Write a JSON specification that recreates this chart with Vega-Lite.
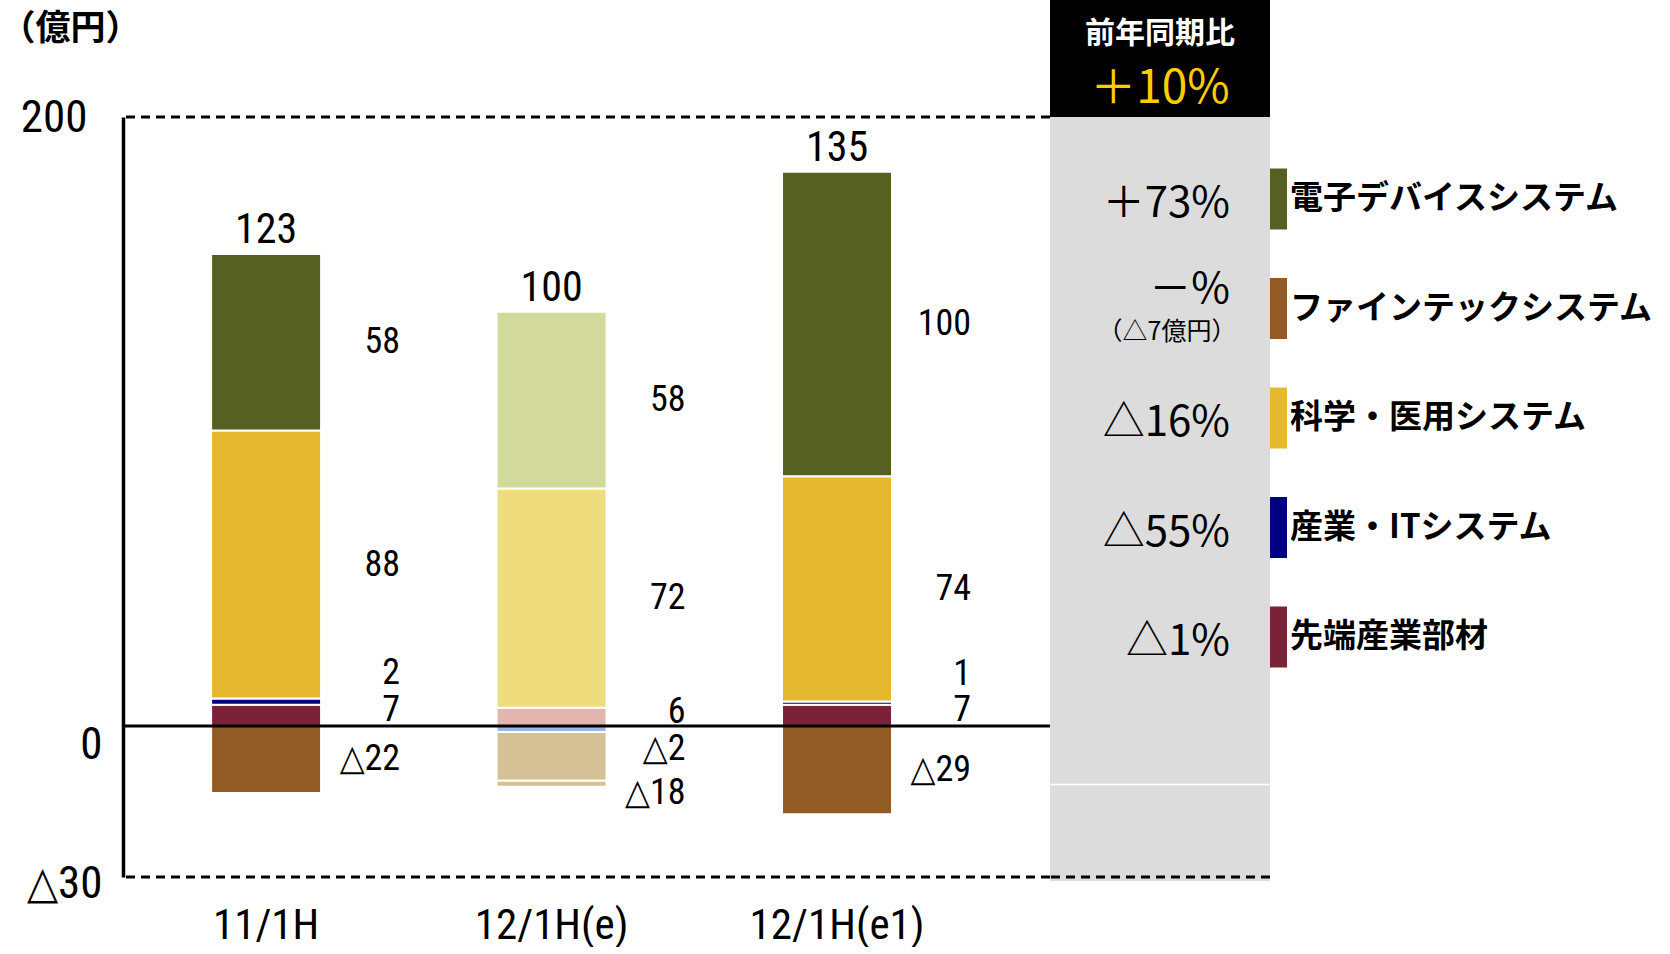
{
  "$schema": "https://vega.github.io/schema/vega-lite/v6.json",
  "background": "white",
  "padding": 0,
  "spacing": 0,
  "bounds": "flush",
  "config": {"view": {"stroke": null}, "font": "Noto Sans CJK JP", "text": {"color": "black"}},
  "datasets": {
    "bars": [
      {"cat": "11/1H", "series": "先端産業部材", "value": 7, "ord": 1, "label": "7"},
      {"cat": "11/1H", "series": "産業・ITシステム", "value": 2, "ord": 2, "label": "2"},
      {"cat": "11/1H", "series": "科学・医用システム", "value": 88, "ord": 3, "label": "88"},
      {"cat": "11/1H", "series": "電子デバイスシステム", "value": 58, "ord": 4, "label": "58"},
      {"cat": "11/1H", "series": "ファインテックシステム", "value": -22, "ord": 5, "label": "△22"},
      {"cat": "12/1H(e)", "series": "先端産業部材", "value": 6, "ord": 1, "label": "6"},
      {"cat": "12/1H(e)", "series": "産業・ITシステム", "value": -2, "ord": 2, "label": "△2"},
      {"cat": "12/1H(e)", "series": "科学・医用システム", "value": 72, "ord": 3, "label": "72"},
      {"cat": "12/1H(e)", "series": "電子デバイスシステム", "value": 58, "ord": 4, "label": "58"},
      {"cat": "12/1H(e)", "series": "ファインテックシステム", "value": -16, "ord": 5, "label": ""},
      {"cat": "12/1H(e)", "series": "ファインテックシステム", "value": -2, "ord": 6, "label": "△18"},
      {"cat": "12/1H(e1)", "series": "先端産業部材", "value": 7, "ord": 1, "label": "7"},
      {"cat": "12/1H(e1)", "series": "産業・ITシステム", "value": 1, "ord": 2, "label": "1"},
      {"cat": "12/1H(e1)", "series": "科学・医用システム", "value": 74, "ord": 3, "label": "74"},
      {"cat": "12/1H(e1)", "series": "電子デバイスシステム", "value": 100, "ord": 4, "label": "100"},
      {"cat": "12/1H(e1)", "series": "ファインテックシステム", "value": -29, "ord": 5, "label": "△29"}
    ],
    "totals": [
      {"cat": "11/1H", "total": "123"},
      {"cat": "12/1H(e)", "total": "100"},
      {"cat": "12/1H(e1)", "total": "135"}
    ],
    "yoy": [
      {"series": "電子デバイスシステム", "yoy": "＋73%"},
      {"series": "ファインテックシステム", "yoy": "－%", "note": "（△7億円）"},
      {"series": "科学・医用システム", "yoy": "△16%"},
      {"series": "産業・ITシステム", "yoy": "△55%"},
      {"series": "先端産業部材", "yoy": "△1%"}
    ]
  },
  "resolve": {"scale": {"color": "independent", "fill": "independent", "y": "independent"}, "legend": {"color": "independent"}},
  "hconcat": [
    {
      "width": 927,
      "height": 760,
      "data": {"name": "bars"},
      "layer": [
        {
          "transform": [{"filter": "datum.cat != '12/1H(e)'"}],
          "mark": {"type": "bar", "stroke": "white", "strokeWidth": 2},
          "encoding": {
            "x": {
              "field": "cat", "type": "nominal",
              "scale": {"domain": ["11/1H", "12/1H(e)", "12/1H(e1)"], "paddingInner": 0.6147, "paddingOuter": 0.431, "align": 0.358},
              "axis": {"title": null, "domain": false, "ticks": false, "labelFont": "Liberation Sans Narrow, Roboto Condensed, DejaVu Sans Condensed, Roboto, sans-serif", "labelFontSize": 43, "labelColor": "black", "labelPadding": 27, "labelAngle": 0, "labelLimit": 0}
            },
            "y": {
              "field": "value", "type": "quantitative", "stack": "zero",
              "scale": {"domain": [-49.6, 200], "nice": false, "zero": false},
              "axis": {
                "title": "（億円）", "titleAngle": 0, "titleAlign": "left", "titleBaseline": "middle",
                "titleX": -123, "titleY": -89, "titleFontSize": 35, "titleFontWeight": "bold",
                "titleFont": "Noto Sans CJK JP", "titleColor": "black",
                "values": [200, 0, -49.6],
                "labelExpr": "datum.value > 100 ? '200' : (datum.value > -20 ? '0' : '△30')",
                "labelFont": "Liberation Sans Narrow, Roboto Condensed, DejaVu Sans Condensed, Roboto, sans-serif", "labelFontSize": 45, "labelColor": "black",
                "labelBaseline": "middle", "labelOverlap": false,
                "labelPadding": {"condition": {"test": "datum.value == 200", "value": 36}, "value": 21},
                "labelOffset": {"condition": [{"test": "datum.value == 0", "value": 19}, {"test": "datum.value < -40", "value": 6}], "value": 0},
                "ticks": false, "grid": false, "domainColor": "black", "domainWidth": 3.5
              }
            },
            "color": {
              "field": "series", "type": "nominal",
              "scale": {
                "domain": ["電子デバイスシステム", "ファインテックシステム", "科学・医用システム", "産業・ITシステム", "先端産業部材"],
                "range": ["#556022", "#925A24", "#E5B82F", "#000080", "#7A2238"]
              },
              "legend": {
                "title": null, "orient": "none", "legendX": 1123.5, "legendY": 51.5, "padding": 0,
                "symbolType": "M-0.328,-1H0.328V1H-0.328Z", "symbolSize": 3721, "symbolStrokeWidth": 0,
                "labelFont": "Noto Sans CJK JP", "labelFontSize": 33, "labelFontWeight": "bold", "labelColor": "black",
                "labelOffset": -17.5, "rowPadding": 48.5, "labelLimit": 0
              }
            },
            "order": {"field": "ord", "type": "quantitative"}
          }
        },
        {
          "transform": [{"filter": "datum.cat == '12/1H(e)'"}],
          "mark": {"type": "bar", "stroke": "white", "strokeWidth": 2},
          "encoding": {
            "x": {"field": "cat", "type": "nominal"},
            "y": {"field": "value", "type": "quantitative", "stack": "zero"},
            "fill": {
              "field": "series", "type": "nominal",
              "scale": {
                "domain": ["電子デバイスシステム", "ファインテックシステム", "科学・医用システム", "産業・ITシステム", "先端産業部材"],
                "range": ["#D1D99B", "#D5C195", "#EEDC7D", "#9FB3E6", "#E4B4AE"]
              },
              "legend": null
            },
            "order": {"field": "ord", "type": "quantitative"}
          }
        },
        {
          "data": {"values": [{}]},
          "mark": {"type": "rule", "strokeWidth": 3, "color": "black"},
          "encoding": {"y": {"datum": 0}}
        },
        {
          "data": {"values": [{}]},
          "mark": {"type": "rule", "strokeWidth": 3, "color": "black", "strokeDash": [9, 6]},
          "encoding": {"y": {"datum": 200}}
        },
        {
          "data": {"values": [{}]},
          "mark": {"type": "rule", "strokeWidth": 3, "color": "black", "strokeDash": [9, 6]},
          "encoding": {"y": {"datum": -49.6}}
        },
        {
          "mark": {
            "type": "text", "align": "right", "baseline": "middle", "dx": 134, "fontSize": 36,
            "font": "Liberation Sans Narrow, Roboto Condensed, DejaVu Sans Condensed, Roboto, sans-serif", "color": "black",
            "dy": {"expr": "datum.series == '産業・ITシステム' ? (datum.value > 0 ? -29 : 20) : (datum.series == '先端産業部材' ? -5 : (datum.ord == 6 ? 9 : 0))"}
          },
          "encoding": {
            "x": {"field": "cat", "type": "nominal"},
            "y": {"field": "value", "type": "quantitative", "stack": "zero", "bandPosition": 0.5},
            "detail": {"field": "series"},
            "order": {"field": "ord", "type": "quantitative"},
            "text": {"field": "label"}
          }
        },
        {
          "transform": [
            {"filter": "datum.value > 0"},
            {"aggregate": [{"op": "sum", "field": "value", "as": "top"}], "groupby": ["cat"]},
            {"lookup": "cat", "from": {"data": {"name": "totals"}, "key": "cat", "fields": ["total"]}}
          ],
          "mark": {"type": "text", "baseline": "alphabetic", "dy": -11, "fontSize": 42, "font": "Liberation Sans Narrow, Roboto Condensed, DejaVu Sans Condensed, Roboto, sans-serif", "color": "black"},
          "encoding": {
            "x": {"field": "cat", "type": "nominal"},
            "y": {"field": "top", "type": "quantitative"},
            "text": {"field": "total"}
          }
        }
      ]
    },
    {
      "width": 220,
      "height": 760,
      "resolve": {"scale": {"y": "independent"}},
      "layer": [
        {
          "data": {"values": [{}]},
          "mark": {"type": "rect", "color": "black"},
          "encoding": {
            "y": {"datum": 238.4, "type": "quantitative", "scale": {"domain": [-49.6, 200], "nice": false, "zero": false}, "axis": null},
            "y2": {"datum": 200}
          }
        },
        {
          "data": {"values": [{}]},
          "mark": {"type": "rect", "color": "#DCDCDC"},
          "encoding": {
            "y": {"datum": 200, "type": "quantitative", "scale": {"domain": [-49.6, 200], "nice": false, "zero": false}, "axis": null},
            "y2": {"datum": -50.9}
          }
        },
        {
          "data": {"values": [{}]},
          "mark": {"type": "rule", "strokeWidth": 1.5, "color": "white"},
          "encoding": {
            "y": {"datum": -19.2, "type": "quantitative", "scale": {"domain": [-49.6, 200], "nice": false, "zero": false}, "axis": null}
          }
        },
        {
          "data": {"values": [{}]},
          "mark": {"type": "rule", "strokeWidth": 3, "color": "black", "strokeDash": [9, 6]},
          "encoding": {
            "y": {"datum": -49.6, "type": "quantitative", "scale": {"domain": [-49.6, 200], "nice": false, "zero": false}, "axis": null}
          }
        },
        {
          "data": {"values": [{"t": "前年同期比"}]},
          "mark": {"type": "text", "color": "white", "fontSize": 30, "fontWeight": "bold", "baseline": "middle", "align": "center", "font": "Noto Sans CJK JP"},
          "encoding": {
            "y": {"datum": 227.3, "type": "quantitative", "scale": {"domain": [-49.6, 200], "nice": false, "zero": false}, "axis": null},
            "text": {"field": "t"}
          }
        },
        {
          "data": {"values": [{"t": "＋10%"}]},
          "mark": {"type": "text", "color": "#FFCC00", "fontSize": 46, "baseline": "middle", "align": "center", "font": "Noto Sans CJK JP"},
          "encoding": {
            "y": {"datum": 209.2, "type": "quantitative", "scale": {"domain": [-49.6, 200], "nice": false, "zero": false}, "axis": null},
            "text": {"field": "t"}
          }
        },
        {
          "data": {"name": "yoy"},
          "mark": {"type": "text", "align": "right", "dx": 70, "fontSize": 42, "baseline": "middle", "font": "Noto Sans CJK JP", "color": "black", "dy": {"expr": "datum.note ? -21 : 2"}},
          "encoding": {
            "y": {
              "field": "series", "type": "nominal",
              "scale": {"type": "band", "domain": ["電子デバイスシステム", "ファインテックシステム", "科学・医用システム", "産業・ITシステム", "先端産業部材"], "paddingInner": 0.06, "paddingOuter": 1, "align": 0.153},
              "axis": null
            },
            "text": {"field": "yoy"}
          }
        },
        {
          "data": {"name": "yoy"},
          "transform": [{"filter": "datum.note"}],
          "mark": {"type": "text", "align": "center", "dx": 7, "dy": 21, "fontSize": 25, "baseline": "middle", "font": "Noto Sans CJK JP", "color": "black"},
          "encoding": {
            "y": {
              "field": "series", "type": "nominal",
              "scale": {"type": "band", "domain": ["電子デバイスシステム", "ファインテックシステム", "科学・医用システム", "産業・ITシステム", "先端産業部材"], "paddingInner": 0.06, "paddingOuter": 1, "align": 0.153},
              "axis": null
            },
            "text": {"field": "note"}
          }
        }
      ]
    }
  ]
}
